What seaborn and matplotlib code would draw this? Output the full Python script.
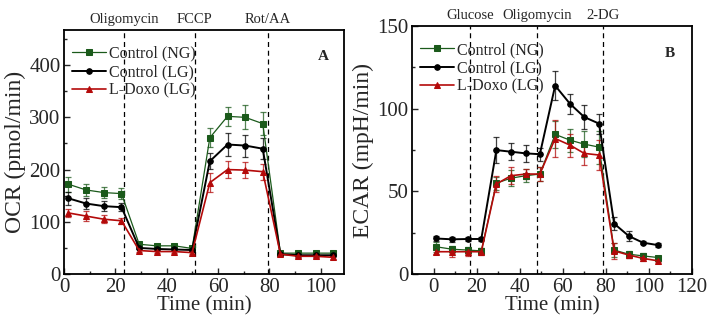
import numpy as np
import pandas as pd
import matplotlib
matplotlib.use("Agg")
import matplotlib.pyplot as plt
from matplotlib.ticker import MultipleLocator
import seaborn as sns

# ---- data -------------------------------------------------------------
groups = ["Control (NG)", "Control (LG)", "L-Doxo (LG)"]

ocr_time = [1.7, 8.6, 15.5, 22.4, 29.3, 36.2, 43.0, 49.9,
            56.8, 63.7, 70.6, 77.4, 84.3, 91.2, 98.0, 104.9]
ocr_ng = [172, 161, 156, 154, 57, 54, 54, 49, 261, 302, 300, 288, 40, 40, 40, 40]
ocr_ng_err = [14, 12, 11, 10, 4, 4, 4, 4, 18, 18, 23, 22, 4, 4, 4, 4]
ocr_lg = [145, 135, 130, 128, 50, 48, 47, 46, 216, 248, 246, 240, 38, 36, 36, 36]
ocr_lg_err = [12, 10, 9, 8, 3, 3, 3, 3, 15, 22, 21, 20, 3, 3, 3, 3]
ocr_doxo = [117, 111, 105, 102, 45, 43, 43, 41, 175, 200, 199, 196, 38, 34, 34, 32]
ocr_doxo_err = [8, 10, 8, 6, 3, 3, 3, 3, 18, 16, 15, 15, 4, 4, 4, 4]
ocr_injections = [23.5, 51.0, 79.5]
ocr_injection_names = ["Oligomycin", "FCCP", "Rot/AA"]

ecar_time = [1.2, 8.7, 16.0, 22.2, 29.2, 36.0, 42.9, 49.4,
             56.5, 63.4, 70.0, 76.9, 83.9, 90.7, 97.2, 104.2]
ecar_ng = [16.5, 15, 14.5, 14, 55, 58, 59.5, 60.5, 84.5, 81, 78.6, 76.8, 14.5, 12, 11, 10]
ecar_ng_err = [3, 2, 2, 2, 4, 5, 4, 4, 8, 7, 8, 10, 4, 2, 1.5, 1]
ecar_lg = [21.5, 21, 21.2, 21.2, 75, 74, 73, 72.5, 114, 103, 95, 91, 30.5, 23, 19, 17.5]
ecar_lg_err = [1.5, 1.5, 1.5, 1.5, 8, 5, 5, 4, 9, 6, 7, 6, 4, 3, 1, 1]
ecar_doxo = [13.5, 13.5, 13.5, 13.5, 54.5, 59.5, 60.5, 60.5, 82, 78, 73, 72, 14, 11.5, 9.5, 8]
ecar_doxo_err = [1.5, 3, 2.5, 2, 5, 5, 3, 4, 11, 7, 7, 9, 5, 2, 1.5, 1]
ecar_injections = [17.0, 48.0, 78.5]
ecar_injection_names = ["Glucose", "Oligomycin", "2-DG"]

# ---- style ------------------------------------------------------------
sns.set_theme(style="ticks")
plt.rcParams["font.family"] = ["Liberation Serif", "DejaVu Serif"]

colors = {"Control (NG)": "#1b5a1b", "Control (LG)": "#000000", "L-Doxo (LG)": "#b40a0a"}
markers = {"Control (NG)": "s", "Control (LG)": "o", "L-Doxo (LG)": "^"}
widths = {"Control (NG)": 0.9, "Control (LG)": 1.4, "L-Doxo (LG)": 1.2}


def long_frame(time, series):
    rows = []
    for name, (vals, errs) in series.items():
        for t, v, e in zip(time, vals, errs):
            rows.append({"time": t, "value": v, "err": e, "group": name})
    return pd.DataFrame(rows)


def draw_panel(ax, df, injections, names, ylim, xlim, ymajor, yminor, xmajor,
               ylabel, tag, tag_pos, xticks):
    for g in groups:
        sub = df[df["group"] == g]
        ax.errorbar(sub["time"], sub["value"], yerr=sub["err"], fmt="none",
                    ecolor=colors[g], elinewidth=0.9, capsize=2.5, capthick=0.9,
                    alpha=0.75, zorder=2)
        sns.lineplot(data=sub, x="time", y="value", ax=ax, color=colors[g],
                     marker=markers[g], markersize=4, markeredgecolor=colors[g],
                     linewidth=widths[g], label=g, zorder=3, errorbar=None)
    for xv, nm in zip(injections, names):
        ax.axvline(xv, color="black", linestyle=(0, (4, 3)), linewidth=0.9, zorder=1)
        ax.text(xv, 1.015, nm, transform=ax.get_xaxis_transform(), ha="center",
                va="bottom", fontsize=10.5)
    ax.set_xlim(*xlim)
    ax.set_ylim(*ylim)
    ax.set_xticks(xticks)
    ax.xaxis.set_minor_locator(MultipleLocator(xmajor / 2))
    ax.yaxis.set_major_locator(MultipleLocator(ymajor))
    ax.yaxis.set_minor_locator(MultipleLocator(yminor))
    ax.tick_params(which="both", direction="in", labelsize=15, width=1.0)
    ax.tick_params(which="major", length=4)
    ax.tick_params(which="minor", length=2.5)
    ax.tick_params(axis="x", pad=3)
    ax.tick_params(axis="y", pad=2.5)
    for sp in ax.spines.values():
        sp.set_linewidth(1.3)
        sp.set_visible(True)
        sp.set_color("black")
    ax.set_xlabel("Time (min)", fontsize=15, labelpad=-1)
    ax.set_ylabel(ylabel, fontsize=17, labelpad=2)
    ax.text(tag_pos[0], tag_pos[1], tag, transform=ax.transAxes, fontsize=11,
            fontweight="bold", ha="center", va="center")
    leg = ax.legend(loc="upper left", bbox_to_anchor=(-0.005, 0.975), frameon=False,
                    fontsize=11.5, handlelength=2.1, handletextpad=0.2,
                    labelspacing=0.15, borderaxespad=0.2)
    for h in leg.legend_handles:
        h.set_markersize(4)


fig = plt.figure(figsize=(7.14, 3.35), dpi=100)
axA = fig.add_axes([0.0896, 0.182, 0.392, 0.728])
axB = fig.add_axes([0.577, 0.182, 0.392, 0.740])

dfA = long_frame(ocr_time, {
    "Control (NG)": (ocr_ng, ocr_ng_err),
    "Control (LG)": (ocr_lg, ocr_lg_err),
    "L-Doxo (LG)": (ocr_doxo, ocr_doxo_err),
})
dfB = long_frame(ecar_time, {
    "Control (NG)": (ecar_ng, ecar_ng_err),
    "Control (LG)": (ecar_lg, ecar_lg_err),
    "L-Doxo (LG)": (ecar_doxo, ecar_doxo_err),
})

draw_panel(axA, dfA, ocr_injections, ocr_injection_names, (0, 467), (0, 109),
           100, 50, 20, "OCR (pmol/min)", "A", (0.925, 0.89),
           [0, 20, 40, 60, 80, 100])
draw_panel(axB, dfB, ecar_injections, ecar_injection_names, (0, 150), (-10, 120),
           50, 25, 20, "ECAR (mpH/min)", "B", (0.92, 0.89),
           [0, 20, 40, 60, 80, 100, 120])

fig.savefig("out.png", dpi=100)
